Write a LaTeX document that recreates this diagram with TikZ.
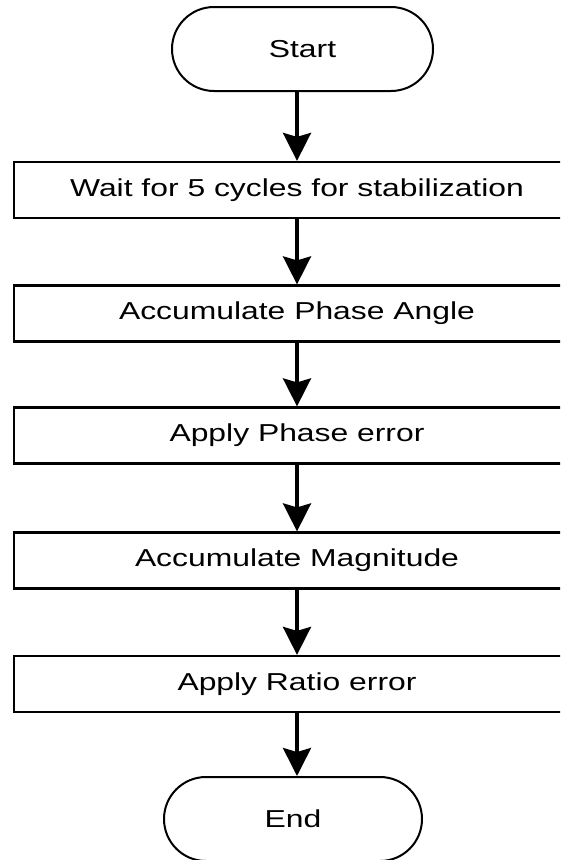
\documentclass[tikz,border=0pt]{standalone}
\usepackage{fontspec}
\newfontfamily\flowfont[FakeStretch=1.3]{Liberation Sans}
\usetikzlibrary{arrows.meta}
\tikzset{
  terminal/.style={draw=black, line width=2pt, rounded corners=42pt, minimum height=84pt, inner sep=0pt, font=\flowfont\fontsize{24.5}{28}\selectfont},
  procbox/.style={draw=black, line width=2.2pt, minimum width=566pt, minimum height=56pt, inner sep=0pt, font=\flowfont\fontsize{24.5}{28}\selectfont},
  flowarrow/.style={line width=3.5pt, -{Stealth[length=28pt, width=28pt, inset=4pt]}}
}
\begin{document}
\begin{tikzpicture}[x=1pt, y=-1pt]
\fill[white] (0,0) rectangle (560,860);
\clip (0,0) rectangle (560,860);
\node[terminal, minimum width=261pt] (start) at (302.5,49) {Start};
\node[procbox] (b1) at (297,190) {Wait for 5 cycles for stabilization};
\node[procbox] (b2) at (297,313.5) {Accumulate Phase Angle};
\node[procbox] (b3) at (297,435.5) {Apply Phase error};
\node[procbox] (b4) at (297,560.5) {Accumulate Magnitude};
\node[procbox] (b5) at (297,684) {Apply Ratio error};
\node[terminal, minimum width=258pt] (end) at (293,819) {End};
\draw[flowarrow] (b1.north |- start.south) -- (b1.north);
\draw[flowarrow] (b1.south) -- (b2.north);
\draw[flowarrow] (b2.south) -- (b3.north);
\draw[flowarrow] (b3.south) -- (b4.north);
\draw[flowarrow] (b4.south) -- (b5.north);
\draw[flowarrow] (b5.south) -- (b5.south |- end.north);
\end{tikzpicture}
\end{document}
